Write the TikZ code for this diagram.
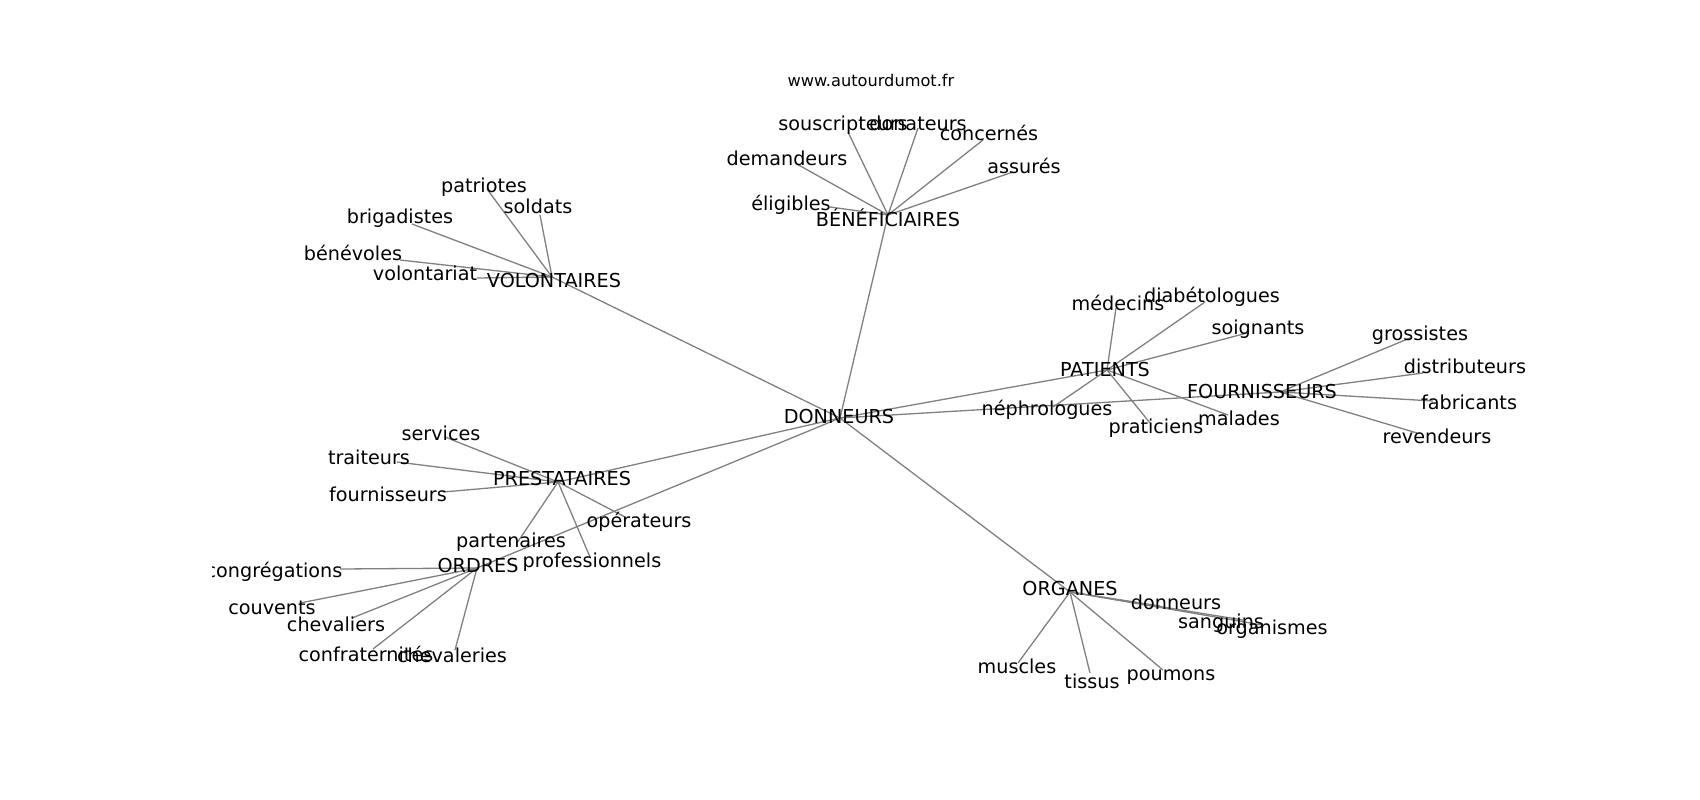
\documentclass[tikz,border=0pt]{standalone}
\usepackage{fontspec}
\setmainfont{DejaVu Sans}
\definecolor{edgegray}{RGB}{128,128,128}
\tikzset{
  lbl/.style={font=\fontsize{19.2}{23}\selectfont, inner sep=0pt, anchor=base, text=black},
  ttl/.style={font=\fontsize{16.2}{19}\selectfont, inner sep=0pt, anchor=base, text=black},
  edge/.style={draw=edgegray, line width=1.3pt},
}
\begin{document}
\begin{tikzpicture}[x=1pt,y=-1pt]
\useasboundingbox (0,0) rectangle (1700,800);
\node[ttl] (www) at (871,87) {www.autourdumot.fr};
\begin{scope}
\clip (212.5,96) rectangle (1530,712);
% end points of the connectors
\coordinate (D) at (840,418);
\coordinate (B) at (888,215);
\coordinate (sous) at (848,132);
\coordinate (dona) at (918,128);
\coordinate (concernes) at (983,140);
\coordinate (demandeurs) at (795,163);
\coordinate (assures) at (1013,172);
\coordinate (eligibles) at (830,207);
\coordinate (V) at (552,277);
\coordinate (patriotes) at (487,189);
\coordinate (soldats) at (540,215);
\coordinate (brigadistes) at (412,224);
\coordinate (benevoles) at (400,260);
\coordinate (volontariat) at (477,278);
\coordinate (P) at (1107,370);
\coordinate (medecins) at (1116,308);
\coordinate (diabetologues) at (1205,302);
\coordinate (soignants) at (1247,333);
\coordinate (nephrologues) at (1053,407);
\coordinate (praticiens) at (1150,423);
\coordinate (malades) at (1228,415);
\coordinate (F) at (1280,392);
\coordinate (grossistes) at (1410,338);
\coordinate (distributeurs) at (1423,373);
\coordinate (fabricants) at (1433,401);
\coordinate (revendeurs) at (1417,433);
\coordinate (Pr) at (558,482);
\coordinate (services) at (445,437);
\coordinate (traiteurs) at (397,462);
\coordinate (fournisseurs) at (443,492);
\coordinate (operateurs) at (625,517);
\coordinate (partenaires) at (517,543);
\coordinate (professionnels) at (590,557);
\coordinate (O) at (477,568);
\coordinate (congregations) at (340,569);
\coordinate (couvents) at (300,603);
\coordinate (chevaliers) at (352,618);
\coordinate (confraternites) at (373,649);
\coordinate (chevaleries) at (455,650);
\coordinate (G) at (1070,592);
\coordinate (donneurs) at (1160,606);
\coordinate (sanguins) at (1243,620);
\coordinate (organismes) at (1262,625);
\coordinate (muscles) at (1018,663);
\coordinate (tissus) at (1090,673);
\coordinate (poumons) at (1163,670);
% connectors
\foreach \a/\b in {D/B, D/V, D/P, D/F, D/Pr, D/O, D/G,
  B/sous, B/dona, B/concernes, B/demandeurs, B/assures, B/eligibles,
  V/patriotes, V/soldats, V/brigadistes, V/benevoles, V/volontariat,
  P/medecins, P/diabetologues, P/soignants, P/nephrologues, P/praticiens, P/malades,
  F/grossistes, F/distributeurs, F/fabricants, F/revendeurs,
  Pr/services, Pr/traiteurs, Pr/fournisseurs, Pr/operateurs, Pr/partenaires, Pr/professionnels,
  O/congregations, O/couvents, O/chevaliers, O/confraternites, O/chevaleries,
  G/donneurs, G/sanguins, G/organismes, G/muscles, G/tissus, G/poumons}
  \draw[edge] (\a) -- (\b);
% labels
\node[lbl] (l-D) at (839,423) {DONNEURS};
\node[lbl] (l-B) at (888,226) {BÉNÉFICIAIRES};
\node[lbl] (l-sous) at (843,130) {souscripteurs};
\node[lbl] (l-dona) at (918,130) {donateurs};
\node[lbl] (l-concernes) at (989,140) {concernés};
\node[lbl] (l-demandeurs) at (787,165) {demandeurs};
\node[lbl] (l-assures) at (1024,173) {assurés};
\node[lbl] (l-eligibles) at (791,210) {éligibles};
\node[lbl] (l-V) at (554,287) {VOLONTAIRES};
\node[lbl] (l-patriotes) at (484,192) {patriotes};
\node[lbl] (l-soldats) at (538,213) {soldats};
\node[lbl] (l-brigadistes) at (400,223) {brigadistes};
\node[lbl] (l-benevoles) at (353,260) {bénévoles};
\node[lbl] (l-volontariat) at (425,280) {volontariat};
\node[lbl] (l-P) at (1105,376) {PATIENTS};
\node[lbl] (l-medecins) at (1118,310) {médecins};
\node[lbl] (l-diabetologues) at (1212,302) {diabétologues};
\node[lbl] (l-soignants) at (1258,334) {soignants};
\node[lbl] (l-nephrologues) at (1047,415) {néphrologues};
\node[lbl] (l-praticiens) at (1156,433) {praticiens};
\node[lbl] (l-malades) at (1239,425) {malades};
\node[lbl] (l-F) at (1262,398) {FOURNISSEURS};
\node[lbl] (l-grossistes) at (1420,340) {grossistes};
\node[lbl] (l-distributeurs) at (1465,373) {distributeurs};
\node[lbl] (l-fabricants) at (1469,409) {fabricants};
\node[lbl] (l-revendeurs) at (1437,443) {revendeurs};
\node[lbl] (l-Pr) at (562,485) {PRESTATAIRES};
\node[lbl] (l-services) at (441,440) {services};
\node[lbl] (l-traiteurs) at (369,464) {traiteurs};
\node[lbl] (l-fournisseurs) at (388,501) {fournisseurs};
\node[lbl] (l-operateurs) at (639,527) {opérateurs};
\node[lbl] (l-partenaires) at (511,547) {partenaires};
\node[lbl] (l-professionnels) at (592,567) {professionnels};
\node[lbl] (l-O) at (478,572) {ORDRES};
\node[lbl] (l-congregations) at (274,577) {congrégations};
\node[lbl] (l-couvents) at (272,614) {couvents};
\node[lbl] (l-chevaliers) at (336,631) {chevaliers};
\node[lbl] (l-confraternites) at (366,661) {confraternités};
\node[lbl] (l-chevaleries) at (452,662) {chevaleries};
\node[lbl] (l-G) at (1070,595) {ORGANES};
\node[lbl] (l-donneurs) at (1176,609) {donneurs};
\node[lbl] (l-sanguins) at (1221,628) {sanguins};
\node[lbl] (l-organismes) at (1272,634) {organismes};
\node[lbl] (l-muscles) at (1017,673) {muscles};
\node[lbl] (l-tissus) at (1092,688) {tissus};
\node[lbl] (l-poumons) at (1171,680) {poumons};
\end{scope}
\end{tikzpicture}
\end{document}
